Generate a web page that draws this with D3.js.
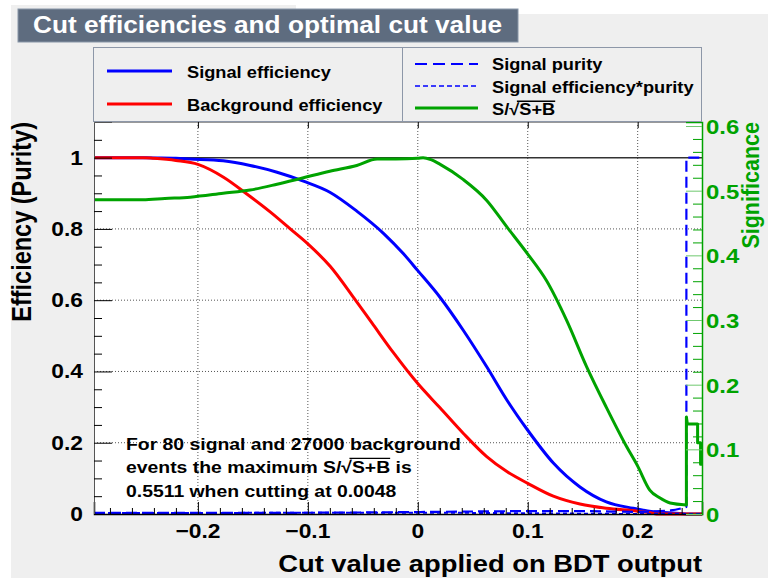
<!DOCTYPE html>
<html>
<head>
<meta charset="utf-8">
<script src="https://cdn.jsdelivr.net/npm/d3@7"></script>
<style>
  html, body { margin: 0; padding: 0; background: #ffffff; }
  svg { display: block; }
  text { font-family: "Liberation Sans", Arial, Helvetica, sans-serif; font-weight: bold; }
</style>
</head>
<body>
<svg id="chart" width="768" height="578"></svg>
<script>
// ---- Data: cut value on the BDT output vs. efficiencies / significance ----
const cutSigEff = [-0.2945, -0.26, -0.24, -0.22, -0.207, -0.177, -0.1525, -0.128, -0.104, -0.08, -0.0555, -0.031, -0.013, 0, 0.02, 0.0415, 0.0627, 0.081, 0.1, 0.1233, 0.1475, 0.1715, 0.196, 0.215, 0.235, 0.2443, 0.2585];
const effSignal = [1, 1, 0.999, 0.998, 0.996, 0.991, 0.978, 0.959, 0.934, 0.903, 0.850, 0.787, 0.730, 0.683, 0.609, 0.515, 0.413, 0.320, 0.235, 0.143, 0.076, 0.034, 0.016, 0.006, 0.002, 0, 0];

const cutBkgEff = [-0.2945, -0.25, -0.24, -0.22, -0.2, -0.1767, -0.1555, -0.134, -0.116, -0.1, -0.0797, -0.0585, -0.0403, -0.022, 0, 0.0202, 0.0415, 0.0627, 0.081, 0.1, 0.1233, 0.1475, 0.1715, 0.2, 0.21, 0.22, 0.2585];
const effBackground = [1, 1, 0.998, 0.992, 0.981, 0.945, 0.898, 0.847, 0.800, 0.758, 0.695, 0.608, 0.530, 0.452, 0.366, 0.298, 0.226, 0.161, 0.119, 0.086, 0.050, 0.028, 0.016, 0.008, 0.004, 0, 0];

const cutPurity = [-0.2945, -0.2, -0.1, 0, 0.05, 0.1, 0.15, 0.2, 0.23, 0.2443, 0.2443, 0.2585];
const purity = [0.003, 0.003, 0.0035, 0.0055, 0.007, 0.008, 0.008, 0.006, 0.01, 0.02, 1, 1];

const cutEffPur = [-0.2945, -0.1, 0, 0.1, 0.2, 0.2443, 0.2585];
const effPurity = [0.003, 0.0033, 0.0038, 0.002, 0.0001, 0, 0];

const cutSignif = [-0.2945, -0.25, -0.23, -0.207, -0.177, -0.1525, -0.128, -0.104, -0.08, -0.0555, -0.037, -0.02, 0, 0.0048, 0.012, 0.02, 0.0415, 0.0627, 0.081, 0.1, 0.117, 0.1355, 0.1535, 0.1715, 0.19, 0.2, 0.211, 0.22, 0.2295, 0.2443, 0.2443, 0.2452, 0.2545, 0.2545, 0.2572, 0.2572, 0.2585];
const significance = [0.486, 0.486, 0.488, 0.490, 0.496, 0.501, 0.510, 0.520, 0.530, 0.539, 0.549, 0.549, 0.550, 0.5511, 0.548, 0.541, 0.517, 0.485, 0.444, 0.402, 0.361, 0.299, 0.228, 0.165, 0.104, 0.074, 0.037, 0.025, 0.017, 0.014, 0.150, 0.139, 0.139, 0.110, 0.110, 0.077, 0.077];

const maxSignificance = 0.5511;

// ---- Tick labels ----
const xTicks = [-0.2, -0.1, 0, 0.1, 0.2];
const xTickLabels = ["\u22120.2", "\u22120.1", "0", "0.1", "0.2"];
const yTicks = [0, 0.2, 0.4, 0.6, 0.8, 1];
const yTickLabels = ["0", "0.2", "0.4", "0.6", "0.8", "1"];
const sTicks = [0, 0.1, 0.2, 0.3, 0.4, 0.5, 0.6];
const sTickLabels = ["0", "0.1", "0.2", "0.3", "0.4", "0.5", "0.6"];

// ---- Layout ----
const W = 768, H = 578;
const plot = { left: 94, right: 702, top: 122, bottom: 514 };
const SX = 1.14;                 // horizontal stretch of the glyphs
const BLUE = "#0000ff", RED = "#ff0000", GREEN = "#00a300";
const CANVAS = "#efefef";

const svg = d3.select("#chart");

const x = d3.scaleLinear().domain([-0.2945, 0.2585]).range([plot.left, plot.right]);
const y = d3.scaleLinear().domain([0, 1.1]).range([plot.bottom, plot.top]);
const yS = d3.scaleLinear().domain([0, 1.1 * maxSignificance]).range([plot.bottom, plot.top]);

// text helper with stretched glyphs
function label(parent, px, py, str, o) {
  const g = parent.append("g")
    .attr("transform", `translate(${px},${py}) scale(${SX},1)` + (o.rotate ? ` rotate(${o.rotate})` : ""));
  const t = g.append("text")
    .attr("font-size", o.size)
    .attr("text-anchor", o.anchor || "start")
    .attr("fill", o.fill || "#000")
    .text(str);
  return { g, t };
}

// text with an S/sqrt(S+B) expression in it
function sqrtLabel(parent, px, py, before, after, o) {
  const g = parent.append("g").attr("transform", `translate(${px},${py}) scale(${SX},1)`);
  const t = g.append("text").attr("font-size", o.size).attr("fill", o.fill || "#000");
  t.append("tspan").text(before + "S/");
  t.append("tspan").text("\u221A");
  t.append("tspan").text("S+B");
  if (after) t.append("tspan").text(after);
  const node = t.node();
  const iRoot = (before + "S/").length;
  const iEnd = iRoot + 1 + 3;
  const x0 = node.getStartPositionOfChar(iRoot).x + o.size * 0.42;
  const x1 = node.getEndPositionOfChar(iEnd - 1).x;
  g.append("line")
    .attr("x1", x0).attr("x2", x1)
    .attr("y1", -o.size * 0.86).attr("y2", -o.size * 0.86)
    .attr("stroke", o.fill || "#000").attr("stroke-width", 1.3);
  return g;
}

// ---- Backgrounds ----
svg.append("rect").attr("x", 11).attr("y", 14).attr("width", W - 11).attr("height", H - 14).attr("fill", CANVAS);
svg.append("rect").attr("x", 11).attr("y", 5).attr("width", 285).attr("height", 10).attr("fill", CANVAS);
svg.append("rect")
  .attr("x", plot.left).attr("y", plot.top)
  .attr("width", plot.right - plot.left).attr("height", plot.bottom - plot.top)
  .attr("fill", "#ffffff");

// ---- Grid ----
const grid = svg.append("g").attr("stroke", "#555").attr("stroke-width", 1).attr("stroke-dasharray", "1,2");
xTicks.forEach(v => grid.append("line")
  .attr("x1", x(v)).attr("x2", x(v)).attr("y1", plot.top).attr("y2", plot.bottom));
yTicks.filter(v => v > 0 && v < 1).forEach(v => grid.append("line")
  .attr("x1", plot.left).attr("x2", plot.right).attr("y1", y(v)).attr("y2", y(v)));

// reference line at efficiency 1
svg.append("line")
  .attr("x1", plot.left).attr("x2", plot.right).attr("y1", y(1)).attr("y2", y(1))
  .attr("stroke", "#333").attr("stroke-width", 1.5);

// ---- Curves ----
// smooth interpolation between samples; vertical jumps (repeated cut value) stay straight
const curves = svg.append("g");
function curve(xs, ys, scale, style) {
  const pts = xs.map((v, i) => [v, ys[i]]);
  let k = pts.findIndex((p, i) => i > 0 && p[0] === pts[i - 1][0]);
  if (k < 0) k = pts.length;
  const smooth = d3.line().x(d => x(d[0])).y(d => scale(d[1])).curve(d3.curveMonotoneX);
  const straight = d3.line().x(d => x(d[0])).y(d => scale(d[1]));
  let d = smooth(pts.slice(0, k));
  if (k < pts.length) d += straight(pts.slice(k - 1)).replace(/^M/, "L");
  const p = curves.append("path")
    .attr("d", d)
    .attr("fill", "none")
    .attr("stroke", style.color)
    .attr("stroke-width", style.width)
    .attr("stroke-linejoin", "round");
  if (style.dash) p.attr("stroke-dasharray", style.dash);
}
curve(cutSigEff, effSignal, y, { color: BLUE, width: 3 });
curve(cutBkgEff, effBackground, y, { color: RED, width: 3 });
curve(cutPurity, purity, y, { color: BLUE, width: 2.2, dash: "11,5" });
curve(cutEffPur, effPurity, y, { color: BLUE, width: 2, dash: "4,3" });
curve(cutSignif, significance, yS, { color: GREEN, width: 3 });

// ---- Axes ----
// bottom axis
const xMinor = d3.range(-0.28, 0.2585, 0.02).map(v => +v.toFixed(2)).filter(v => Math.abs(v * 10 - Math.round(v * 10)) > 1e-6);
svg.append("g").attr("transform", `translate(0,${plot.bottom})`)
  .call(d3.axisBottom(x).tickValues(xTicks).tickSize(-12).tickFormat(""))
  .call(g => g.select(".domain").attr("stroke", "#000").attr("stroke-width", 1.5));
svg.append("g").attr("transform", `translate(0,${plot.bottom})`)
  .call(d3.axisBottom(x).tickValues(xMinor).tickSize(-6).tickFormat(""))
  .call(g => g.select(".domain").remove());
// top frame ticks
svg.append("g").attr("transform", `translate(0,${plot.top})`)
  .call(d3.axisTop(x).tickValues(xTicks).tickSize(-6).tickFormat(""))
  .call(g => g.select(".domain").attr("stroke", "#999"));

// left axis
const yMinor = d3.range(0.05, 1.1, 0.05).map(v => +v.toFixed(2)).filter(v => Math.abs(v * 5 - Math.round(v * 5)) > 1e-6);
svg.append("g").attr("transform", `translate(${plot.left},0)`)
  .call(d3.axisLeft(y).tickValues(yTicks).tickSize(-18).tickFormat(""))
  .call(g => g.select(".domain").attr("stroke", "#555"));
svg.append("g").attr("transform", `translate(${plot.left},0)`)
  .call(d3.axisLeft(y).tickValues(yMinor).tickSize(-8).tickFormat(""))
  .call(g => g.select(".domain").remove());

// right (significance) axis
const sMinor = d3.range(0.02, 1.1 * maxSignificance, 0.02).map(v => +v.toFixed(2)).filter(v => Math.abs(v * 10 - Math.round(v * 10)) > 1e-6);
svg.append("g").attr("transform", `translate(${plot.right},0)`)
  .call(d3.axisRight(yS).tickValues(sTicks).tickSize(-16).tickFormat(""))
  .call(g => g.selectAll("line").attr("stroke", "#6fc86f"))
  .call(g => g.select(".domain").attr("stroke", GREEN).attr("stroke-width", 1.5));
svg.append("g").attr("transform", `translate(${plot.right},0)`)
  .call(d3.axisRight(yS).tickValues(sMinor).tickSize(-9).tickFormat(""))
  .call(g => g.selectAll("line").attr("stroke", GREEN))
  .call(g => g.select(".domain").remove());

// tick labels
xTicks.forEach((v, i) => label(svg, x(v), 538, xTickLabels[i], { size: 20, anchor: "middle" }));
yTicks.forEach((v, i) => label(svg, 83, y(v) + 7, yTickLabels[i], { size: 20, anchor: "end" }));
sTicks.forEach((v, i) => label(svg, 706, yS(v) + 8, sTickLabels[i], { size: 21, anchor: "start", fill: GREEN }));

// axis titles
label(svg, 702, 572, "Cut value applied on BDT output", { size: 24, anchor: "end" });
label(svg, 31, plot.top, "Efficiency (Purity)", { size: 23.5, anchor: "end", rotate: -90 });
label(svg, 759, plot.top, "Significance", { size: 21.5, anchor: "end", rotate: -90, fill: GREEN });

// ---- Title ----
svg.append("rect").attr("x", 18).attr("y", 9).attr("width", 500).attr("height", 33)
  .attr("fill", "#5e6c7f").attr("stroke", "#8896a8").attr("stroke-width", 1);
label(svg, 33, 33, "Cut efficiencies and optimal cut value", { size: 23, fill: "#ffffff" });

// ---- Legend ----
const leg = svg.append("g");
leg.append("rect").attr("x", 93.5).attr("y", 47.5).attr("width", 608).attr("height", 74)
  .attr("fill", CANVAS).attr("stroke", "#8d97a8").attr("stroke-width", 1);
leg.append("line").attr("x1", 402.5).attr("x2", 402.5).attr("y1", 47.5).attr("y2", 121.5)
  .attr("stroke", "#8d97a8").attr("stroke-width", 1);
const legendEntries = [
  { x0: 107, x1: 172, ly: 71, tx: 187, ty: 78, text: "Signal efficiency", color: BLUE, width: 3 },
  { x0: 107, x1: 172, ly: 104, tx: 187, ty: 111, text: "Background efficiency", color: RED, width: 3 },
  { x0: 415, x1: 478, ly: 64, tx: 492, ty: 70, text: "Signal purity", color: BLUE, width: 2, dash: "12,6" },
  { x0: 415, x1: 478, ly: 86, tx: 492, ty: 93, text: "Signal efficiency*purity", color: BLUE, width: 1.6, dash: "5,3" },
  { x0: 415, x1: 478, ly: 108, tx: 492, ty: 115, text: null, color: GREEN, width: 3 }
];
legendEntries.forEach(e => {
  const l = leg.append("line").attr("x1", e.x0).attr("x2", e.x1).attr("y1", e.ly).attr("y2", e.ly)
    .attr("stroke", e.color).attr("stroke-width", e.width);
  if (e.dash) l.attr("stroke-dasharray", e.dash);
  if (e.text) label(leg, e.tx, e.ty, e.text, { size: 16 });
  else sqrtLabel(leg, e.tx, e.ty, "", "", { size: 16 });
});

// ---- Result text ----
label(svg, 126, 450, "For 80 signal and 27000 background", { size: 17 });
sqrtLabel(svg, 126, 473, "events the maximum ", " is", { size: 17 });
label(svg, 126, 497, "0.5511 when cutting at 0.0048", { size: 17 });
</script>
</body>
</html>
